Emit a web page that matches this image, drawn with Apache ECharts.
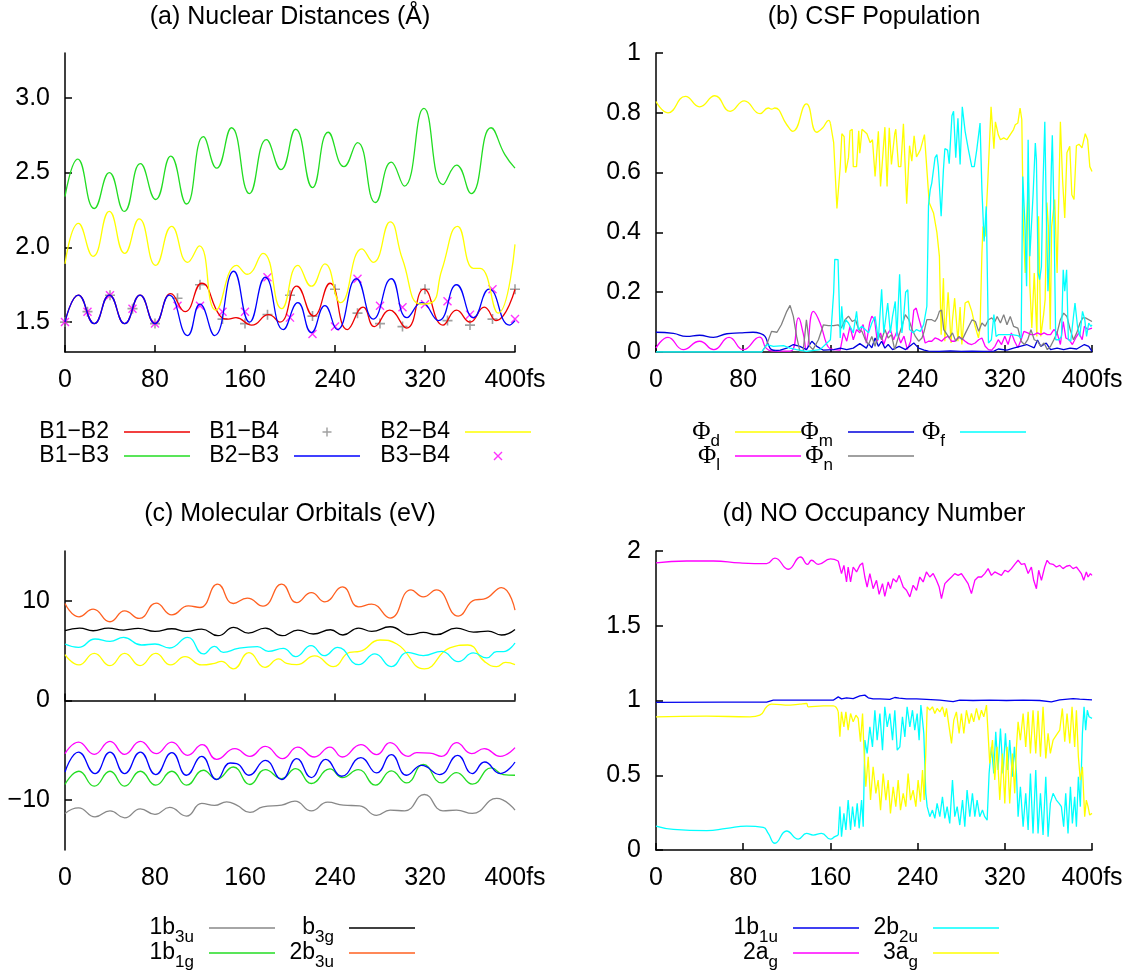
<!DOCTYPE html>
<html>
<head>
<meta charset="utf-8">
<script src="https://cdn.jsdelivr.net/npm/echarts@6/dist/echarts.min.js"></script>
<style>
html, body { margin: 0; padding: 0; background: #fff; }
#chart { width: 1130px; height: 974px; }
</style>
</head>
<body>
<div id="chart"></div>
<script>
// ---- (a) nuclear distances, [fs, Å] ----
const b1b2 = [[0,1.50],[11.9,1.68],[26,1.49],[39.4,1.68],[53,1.49],[66.7,1.68],[80,1.49],[94,1.69],[106.7,1.57],[121.5,1.76],[138,1.54],[145,1.52],[152,1.53],[166,1.48],[181,1.55],[191,1.50],[206,1.74],[221,1.54],[235.6,1.76],[251,1.45],[265,1.60],[275,1.47],[288.6,1.58],[303.7,1.46],[319,1.72],[336,1.48],[348,1.58],[360,1.50],[372.7,1.60],[383,1.51],[400,1.72]];
const b1b3 = [[0,2.34],[11.3,2.59],[26,2.26],[39.4,2.50],[52.7,2.24],[67,2.56],[80.6,2.32],[94,2.61],[108,2.29],[123,2.74],[134.8,2.53],[148,2.80],[164,2.36],[179,2.72],[192,2.52],[205,2.79],[220,2.40],[234,2.77],[248,2.54],[260,2.70],[276,2.30],[290,2.57],[301.6,2.41],[319,2.93],[336,2.42],[348,2.55],[361,2.36],[378.7,2.80],[391,2.62],[400,2.53]];
const b2b3 = [[0,1.50],[11.9,1.68],[26,1.49],[39.4,1.68],[53,1.49],[66.7,1.68],[80,1.49],[92.7,1.68],[109,1.41],[120,1.62],[133,1.41],[150,1.84],[164,1.50],[178,1.80],[194,1.45],[207,1.63],[219,1.43],[231,1.61],[242,1.45],[259,1.79],[274,1.52],[290,1.79],[304,1.53],[317,1.63],[332,1.51],[348,1.75],[363,1.53],[377,1.72],[395,1.48],[400,1.51]];
const b2b4 = [[0,1.89],[11.9,2.16],[25,1.94],[39.4,2.24],[53,1.96],[66,2.19],[80.6,1.88],[94.8,2.14],[109,1.90],[119.4,2.01],[134,1.58],[152.6,1.88],[162,1.82],[176,1.96],[192.6,1.59],[207,1.88],[219,1.74],[231,1.89],[245,1.63],[264,1.99],[274,1.90],[289,2.17],[300,1.92],[316,1.62],[326,1.63],[335,1.85],[349,2.14],[363,1.86],[369,1.86],[385,1.56],[400,2.02]];
const markTimes = [0,20,40,60,80,100,120,140,160,180,200,220,240,260,280,300,320,340,360,380,400];
const b1b4 = [1.50,1.57,1.68,1.59,1.49,1.66,1.75,1.52,1.49,1.55,1.68,1.54,1.72,1.56,1.49,1.47,1.72,1.51,1.48,1.52,1.72];
const b3b4 = [1.50,1.57,1.68,1.59,1.49,1.61,1.61,1.57,1.57,1.80,1.53,1.42,1.47,1.79,1.61,1.60,1.62,1.64,1.55,1.72,1.52];

// ---- (b) CSF population ----
const phiD_early = [[0,0.838],[11,0.80],[27,0.855],[40,0.82],[54,0.857],[68,0.805],[81,0.84],[95.5,0.797],[103,0.816],[106,0.812],[109,0.816],[120,0.76],[125.5,0.738],[138,0.83],[147.5,0.735],[153,0.75],[158.5,0.775],[160,0.765]];
const phiD_late = [[160,0.765],[163,0.70],[166,0.48],[169,0.62],[170.5,0.73],[172.6,0.72],[174,0.60],[176.6,0.65],[178,0.74],[180,0.745],[181,0.62],[184,0.62],[186,0.74],[187,0.665],[189,0.745],[193.5,0.73],[196.5,0.70],[198.6,0.71],[201,0.587],[204,0.738],[206,0.554],[210,0.752],[212,0.554],[214,0.75],[216,0.627],[219,0.73],[220,0.745],[222.5,0.62],[224.6,0.62],[227,0.763],[230,0.496],[232.6,0.69],[234.7,0.638],[236.8,0.723],[239,0.652],[242.5,0.676],[246.3,0.727],[250.6,0.50],[254.6,0.465],[257.7,0.40],[260,0.32],[261.6,0.058],[263.7,0.247],[265,0.036],[268,0.20],[270.7,0.03],[272,0.108],[274,0.18],[277,0.036],[279,0.15],[280.6,0.025],[283.6,0.164],[286.6,0.170],[289.7,0.136],[292.8,0.086],[295.8,0.047],[297.3,0.08],[299,0.33],[300,0.42],[302,0.386],[304.6,0.587],[307.4,0.82],[310,0.68],[311.4,0.77],[314,0.727],[316,0.71],[319,0.716],[322,0.71],[325,0.727],[328,0.744],[329.6,0.76],[332,0.766],[334,0.816],[335.6,0.777],[337,0.42],[338.7,0.264],[340,0.443],[341.7,0.565],[343,0.22],[344.8,0.08],[347,0.264],[349.4,0.052],[351,0.454],[353,0.052],[355.6,0.125],[357,0.175],[358.6,0.50],[360,0.42],[361.7,0.075],[363,0.42],[365.8,0.51],[368,0.264],[371,0.77],[373,0.577],[375,0.448],[377,0.666],[379.6,0.688],[381.5,0.526],[383.5,0.51],[385.7,0.69],[388,0.695],[390.8,0.683],[393.8,0.73],[396,0.71],[398,0.62],[400,0.604]];
const phiL_early = [[0,0.013],[11,0.049],[25,0.008],[40,0.036],[53,0.008],[67,0.049],[80,0.008],[95,0.05],[101,0.013],[106,0.004],[115,0.003],[124,0.004],[130.7,0.114],[135,0.063],[138,0.008],[144.4,0.136],[150.5,0.097],[156.7,0.025],[160,0.01]];
const phiL_late = [[160,0.01],[163,0.008],[169,0.006],[172,0.064],[175,0.036],[178,0.086],[181,0.041],[184,0.075],[187,0.064],[190,0.092],[193,0.03],[196,0.097],[198,0.12],[200.5,0.108],[203,0.036],[206,0.064],[209,0.025],[212,0.058],[215,0.075],[218,0.041],[221,0.069],[224.5,0.03],[227.5,0.053],[230.6,0.008],[233.6,0.036],[236.5,0.14],[238.7,0.147],[241,0.114],[244,0.075],[247,0.03],[250,0.036],[253,0.036],[256,0.047],[259,0.043],[262,0.036],[265,0.047],[268,0.053],[271,0.036],[274,0.036],[277,0.047],[280,0.047],[283.6,0.036],[286.6,0.028],[289.7,0.025],[292.8,0.03],[296,0.041],[299,0.047],[302,0.019],[305,0.008],[308,0.006],[311,0.019],[314,0.041],[317,0.025],[320,0.053],[323,0.025],[326,0.064],[329,0.036],[332,0.014],[335,0.041],[337.5,0.069],[341,0.064],[344,0.058],[347,0.058],[350,0.064],[353,0.058],[356,0.064],[359,0.058],[362,0.058],[365,0.075],[368,0.064],[371,0.025],[373.6,0.102],[376,0.047],[379,0.041],[382,0.025],[385,0.047],[388,0.064],[391,0.041],[393,0.086],[396,0.075],[400,0.08]];
const phiM_early = [[0,0.066],[16,0.062],[28,0.052],[40,0.056],[52.6,0.049],[65,0.061],[77,0.064],[89,0.066],[95.5,0.062],[100,0.052],[103,0.025],[106,0.008],[110,0.005]];
const phiM_late = [[110,0.005],[114,0.006],[120,0.013],[126,0.025],[132,0.019],[138,0.008],[143,0.036],[147.5,0.019],[153.6,0.006],[163,0.008],[169,0.013],[175,0.008],[181,0.013],[187,0.028],[193,0.013],[195,0.028],[198,0.014],[201,0.047],[204,0.019],[207,0.036],[210,0.013],[213,0.025],[217,0.008],[223,0.019],[229,0.008],[236.5,0.03],[241,0.013],[246,0.006],[250,0.003],[260,0.002],[270,0.004],[280,0.002],[290,0.003],[300,0.002],[310,0.003],[314,0.01],[322,0.006],[328,0.013],[334,0.019],[340,0.025],[347,0.014],[350,0.04],[353,0.019],[358,0.03],[362,0.008],[368,0.013],[374,0.008],[380,0.013],[386,0.01],[393,0.025],[397,0.019],[400,0.002]];
const phiN = [[0,0],[97,0],[101.6,0.025],[106,0.069],[111,0.066],[115,0.091],[120,0.136],[123,0.156],[126,0.119],[129,0.052],[132,0.002],[135,0.002],[138,0.108],[141,0.019],[144,0.008],[149,0.041],[153.6,0.091],[158,0.088],[163,0.088],[167,0.091],[170,0.08],[173.5,0.108],[176.6,0.12],[180,0.102],[183,0.108],[186,0.075],[189,0.069],[192,0.041],[195,0.025],[198,0.052],[201,0.019],[204,0.064],[207,0.041],[210,0.075],[213,0.047],[216,0.058],[219,0.008],[222.5,0.052],[225.6,0.086],[228.7,0.125],[232,0.108],[235,0.075],[238,0.052],[241,0.036],[244,0.047],[246,0.069],[248.5,0.108],[250,0.11],[253,0.108],[256,0.102],[258,0.114],[260,0.136],[262,0.14],[264,0.075],[266,0.064],[269,0.047],[272,0.064],[275,0.036],[278,0.052],[281,0.041],[284,0.064],[287,0.086],[290,0.108],[293,0.102],[296,0.069],[299,0.097],[302,0.086],[305,0.108],[308,0.114],[311,0.102],[313,0.119],[316,0.097],[319,0.125],[322,0.091],[325,0.119],[328,0.086],[332,0.08],[335,0.036],[338,0.025],[341,0.041],[344,0.075],[347,0.041],[350,0.036],[353,0.019],[356,0.03],[359,0.008],[362,0.019],[365,0.041],[368,0.064],[371,0.108],[374,0.13],[377,0.119],[380,0.075],[383,0.041],[386,0.064],[389,0.097],[391.5,0.114],[394,0.114],[400,0.102]];
const phiF = [[0,0],[97,0],[101.6,0.025],[107.7,0.019],[117,0.021],[123,0.013],[129,0.008],[138,0.002],[150.5,0.008],[160,0.041],[163,0.2],[164,0.31],[167,0.309],[169,0.047],[170.4,0.153],[172,0.075],[174,0.108],[176.6,0.097],[178,0.086],[181,0.064],[184,0.136],[185.7,0.075],[188.8,0.086],[192,0.075],[195,0.064],[198,0.097],[201,0.119],[204,0.041],[207,0.21],[209,0.064],[212.6,0.164],[215,0.064],[217,0.119],[219.5,0.169],[221,0.052],[223.5,0.26],[225.6,0.064],[227,0.108],[229,0.2],[231,0.208],[232.6,0.075],[236,0.064],[239,0.075],[242.5,0.069],[245.5,0.091],[248.5,0.153],[250,0.49],[251.6,0.543],[253,0.565],[256,0.65],[257.7,0.66],[259,0.62],[261.6,0.454],[263.7,0.61],[265,0.68],[267.5,0.675],[269,0.63],[271.5,0.79],[273,0.805],[275,0.65],[277,0.782],[279,0.627],[281,0.82],[283.6,0.738],[286.6,0.677],[289.7,0.62],[292,0.62],[294.3,0.677],[297.3,0.766],[299,0.543],[301,0.37],[303,0.487],[305,0.03],[307.7,0.041],[310,0.125],[312,0.052],[314,0.058],[316,0.058],[320.6,0.058],[326.7,0.058],[332,0.055],[335,0.047],[336.5,0.587],[338.4,0.432],[340,0.22],[341.4,0.71],[343,0.32],[344.4,0.42],[346,0.53],[348,0.699],[349,0.643],[350.6,0.264],[352,0.242],[353.6,0.286],[355,0.554],[356.7,0.77],[358,0.487],[359.6,0.203],[361,0.331],[362.7,0.62],[363.6,0.725],[365,0.487],[366.7,0.041],[369.7,0.041],[372,0.052],[373.6,0.275],[375,0.203],[376.7,0.275],[378.3,0.041],[380.5,0.036],[382,0.086],[384.4,0.164],[386.7,0.086],[388.8,0.052],[391.3,0.136],[393.4,0.108],[395,0.052],[397,0.097],[399,0.086],[400,0.091]];

// ---- (c) molecular orbitals, eV ----
const mo1b3u = [[0,-11.33],[12,-10.77],[26.7,-11.67],[40,-11.07],[53,-11.77],[67,-10.87],[80,-11.43],[93,-10.73],[108,-11.6],[121.5,-10.33],[133,-10.53],[143.7,-10.17],[152.6,-10.5],[164.4,-11.23],[176,-10.67],[192.6,-10.5],[204.4,-10.1],[219,-11.07],[233.5,-10.2],[247.4,-10.5],[262,-10.57],[277,-11.53],[289,-11.0],[302,-11.07],[319.4,-9.43],[336,-11.07],[348,-11.0],[362,-11.33],[383.7,-9.83],[400,-11.0]];
const mo1b1g = [[0,-8.43],[12.4,-7.1],[26,-8.6],[40,-7.1],[53,-8.6],[67,-7.1],[80.6,-8.5],[95,-7.1],[108,-8.5],[123,-7.0],[134.8,-7.9],[149.6,-6.67],[164.4,-8.43],[178,-6.93],[192.6,-7.83],[205,-6.83],[219,-8.33],[235.5,-6.87],[246.5,-7.73],[260.7,-6.93],[276,-8.5],[290,-7.07],[303.7,-8.27],[318.5,-6.4],[334.8,-8.27],[348,-7.23],[362,-8.4],[379,-6.77],[389.6,-7.43],[400,-7.5]];
const moB3g = [[0,7.0],[13,7.27],[25,7.0],[38.5,7.27],[52,7.07],[65,7.23],[80,6.93],[95,7.2],[108,6.93],[121.5,7.17],[136,6.5],[150,7.33],[163,6.77],[178,7.27],[193,6.5],[207,7.07],[220.7,6.67],[236,7.1],[247,6.57],[261,7.27],[272.6,6.93],[289,7.4],[306.7,6.6],[318.5,6.83],[330,6.6],[348,7.27],[363,6.87],[376,6.97],[388,6.57],[400,7.13]];
const mo2b3u = [[0,9.73],[12.4,8.4],[25,9.17],[40,7.9],[53,9.0],[66,8.23],[81,9.77],[95,8.6],[109.6,9.5],[120,9.33],[135.7,11.67],[149.6,9.73],[162,10.27],[176,9.47],[192.6,11.67],[206,9.83],[219,10.83],[231,9.9],[246.5,11.4],[261,9.4],[272.6,9.67],[289,8.27],[307.6,11.1],[318.5,10.4],[330,11.1],[349.6,8.47],[364.4,10.1],[372,10.17],[388,11.33],[400,9.07]];
const moMagenta = [[0,-5.33],[12,-4.17],[26,-5.4],[40,-4.1],[53,-5.4],[67,-4.1],[81,-5.33],[95,-4.17],[109,-5.5],[122,-4.43],[134.8,-5.9],[151,-4.83],[164.4,-5.6],[178,-4.6],[193.5,-5.83],[206.8,-4.67],[221.6,-5.67],[235.5,-4.67],[246.5,-5.67],[263,-4.43],[277,-5.43],[289,-4.23],[305,-5.6],[312.6,-5.23],[324.4,-5.27],[334.8,-5.6],[348,-4.23],[361.5,-5.33],[372.7,-4.83],[386.7,-5.6],[400,-4.73]];
const moBlue = [[0,-7.17],[12,-5.17],[26.7,-7.33],[40,-5.17],[53,-7.33],[67,-5.17],[80.6,-7.43],[95,-5.23],[108,-7.5],[121.5,-5.6],[134.8,-7.93],[146.7,-6.27],[152.6,-6.33],[163.5,-7.5],[178,-6.0],[192.6,-7.93],[206,-5.83],[219,-7.73],[231.7,-5.9],[246,-7.6],[263,-5.73],[277,-7.27],[290,-5.43],[303.7,-7.5],[317,-6.5],[333,-7.43],[349,-5.5],[362,-7.33],[373,-6.17],[386.7,-7.33],[400,-6.17]];
const moCyan = [[0,5.67],[12,5.33],[26.7,6.17],[40,5.93],[52,6.33],[68,5.57],[80,5.67],[93,5.27],[109,6.33],[123,4.67],[133,5.43],[140.7,4.83],[154,5.23],[171,5.4],[180.7,4.93],[194,5.23],[205,4.4],[218.7,5.5],[230.5,4.5],[242.4,5.33],[261,3.6],[275.5,4.67],[290,3.4],[304.6,4.83],[318.5,4.5],[334.8,4.93],[349.6,3.9],[363,4.77],[374.8,4.27],[383.7,4.9],[389.6,4.9],[400,5.77]];
const moYellow = [[0,4.6],[12.4,3.57],[26,4.73],[40,3.5],[53,4.73],[66.7,3.5],[80.6,4.73],[94,3.57],[106.7,4.4],[121.5,3.57],[133,3.73],[139,3.93],[149.6,3.17],[163.5,4.8],[177.8,3.33],[190,4.17],[197,3.73],[206,3.6],[222,4.47],[238.5,3.4],[253,4.83],[262,4.93],[280,6.07],[295,5.67],[319.4,3.17],[342,5.27],[358,5.57],[373,3.9],[383.7,3.4],[391.6,3.83],[400,3.6]];

// ---- (d) NO occupancy ----
const no1b1u = [[0,0.987],[61.7,0.989],[101.5,0.989],[107.6,1.002],[162.6,1.002],[167.2,1.024],[170.2,1.011],[174.8,1.018],[180.9,1.013],[187,1.031],[188.6,1.020],[191.6,1.036],[194.7,1.018],[199.2,1.011],[205.4,1.011],[214.5,1.007],[219.1,1.020],[220.6,1.033],[223.1,1.016],[229.8,1.011],[239,1.011],[248.1,1.007],[260.4,1.002],[272.6,0.993],[278.7,1.002],[290.9,1.000],[306.2,1.002],[321.5,1.000],[336.8,1.002],[352,1.000],[362.7,0.991],[370.4,1.004],[382.6,1.013],[388.7,1.009],[400,1.004]];
const no2ag_early = [[0,1.920],[28.1,1.933],[52.6,1.933],[77,1.920],[101.5,1.915],[109.1,1.953],[121.3,1.878],[132.6,1.960],[139,1.911],[142.7,1.938],[148.8,1.911],[160.1,1.947],[167.2,1.933]];
const no2ag_late = [[167.2,1.933],[170.2,1.849],[172.4,1.904],[174.8,1.793],[176.3,1.893],[178.5,1.793],[180.9,1.893],[184,1.860],[187,1.904],[189.5,1.920],[191.6,1.826],[193.7,1.759],[196.2,1.849],[199.2,1.748],[202.3,1.804],[204.7,1.710],[207.8,1.782],[209.9,1.697],[213,1.793],[215.1,1.748],[217.6,1.815],[220.6,1.793],[223.1,1.837],[226.8,1.759],[229.8,1.737],[232.9,1.693],[235.9,1.771],[239,1.737],[242,1.826],[245.1,1.793],[248.1,1.860],[251.2,1.826],[254.3,1.849],[257.3,1.804],[259.8,1.759],[261.9,1.682],[265,1.782],[268,1.804],[271.1,1.826],[274.1,1.849],[277.2,1.837],[280.2,1.849],[283.3,1.815],[286.3,1.782],[289.4,1.715],[292.5,1.804],[295.5,1.826],[298.6,1.826],[301.6,1.849],[304.7,1.882],[307.7,1.837],[310.8,1.860],[313.8,1.849],[316.9,1.837],[320,1.871],[323,1.860],[326.1,1.882],[329.1,1.911],[332.2,1.938],[335.2,1.911],[338.3,1.915],[341.4,1.849],[344.4,1.893],[346.5,1.804],[349,1.748],[351.1,1.871],[353.6,1.804],[356.6,1.893],[358.8,1.938],[361.2,1.915],[364.3,1.911],[367.3,1.893],[370.4,1.904],[373.4,1.882],[376.5,1.898],[379.6,1.904],[382.6,1.882],[385.7,1.893],[388.1,1.871],[390.2,1.849],[392.4,1.804],[394.8,1.860],[396.4,1.826],[398.5,1.849],[400,1.837]];
const no2b2u_early = [[0,0.160],[15.9,0.138],[46.5,0.129],[64.8,0.145],[83.1,0.160],[98.4,0.151],[103,0.111],[109.1,0.045],[119.8,0.127],[130.5,0.073],[138.1,0.111],[144.2,0.100],[151.9,0.111],[160.1,0.073],[164.1,0.089],[167.2,0.100]];
const no2b2u_late = [[167.2,0.100],[168.7,0.290],[170.2,0.089],[172.4,0.245],[174.2,0.134],[176.3,0.334],[178.5,0.134],[180.3,0.290],[182.4,0.156],[184.6,0.312],[186.4,0.145],[188.6,0.334],[190.1,0.156],[191.6,0.735],[193.7,0.646],[196.2,0.824],[198.6,0.690],[200.8,0.935],[202.9,0.735],[205.4,0.913],[207.8,0.668],[209.9,0.958],[212.1,0.824],[214.5,0.913],[217,0.735],[219.1,0.935],[221.3,0.668],[223.7,0.690],[226.1,0.891],[228.3,0.757],[230.4,0.958],[232.9,0.824],[235.3,0.935],[237.4,0.802],[239.6,0.913],[241.4,0.735],[243,0.969],[244.5,0.869],[245.7,0.780],[247.5,0.379],[248.8,0.290],[251.2,0.223],[253.6,0.267],[255.8,0.212],[257.9,0.312],[260.4,0.223],[262.8,0.356],[265,0.212],[267.1,0.290],[269.5,0.178],[272,0.468],[274.1,0.223],[276.3,0.290],[278.7,0.167],[281.2,0.334],[283.3,0.156],[285.4,0.401],[287.9,0.223],[290.3,0.379],[292.5,0.223],[294.6,0.334],[297,0.223],[299.5,0.267],[301.6,0.223],[303.8,0.200],[305.6,0.512],[307.7,0.690],[309.9,0.512],[311.7,0.791],[313.8,0.535],[316,0.813],[318.4,0.512],[320.6,0.780],[322.7,0.535],[324.5,0.735],[327,0.490],[328.8,0.690],[330.7,0.512],[332.2,0.223],[334.3,0.423],[336.8,0.156],[339.2,0.379],[341.4,0.134],[343.5,0.512],[345.9,0.111],[348.4,0.535],[350.5,0.111],[352.7,0.379],[355.1,0.100],[357.6,0.490],[359.7,0.089],[361.8,0.312],[364.3,0.379],[367.3,0.334],[369.8,0.312],[371.9,0.290],[374,0.156],[375.9,0.379],[378,0.111],[380.2,0.423],[382,0.178],[384.1,0.356],[385.7,0.156],[387.5,0.490],[389.3,0.290],[391.2,0.780],[392.7,0.958],[394.2,0.802],[395.7,0.935],[397.3,0.891],[398.5,0.891],[400,0.880]];
const no3ag_early = [[0,0.891],[46.5,0.895],[86.2,0.891],[95.3,0.902],[101.5,0.958],[106,0.976],[122.9,0.969],[132,0.976],[138.1,0.980],[139.7,0.958],[153.4,0.964],[162.6,0.964],[167.2,0.924]];
const no3ag_late = [[167.2,0.924],[168.7,0.757],[170.2,0.924],[172.4,0.824],[174.2,0.924],[176.3,0.802],[178.5,0.913],[180.9,0.857],[183.4,0.902],[185.5,0.880],[187.6,0.724],[189.5,0.913],[190.7,0.690],[192.5,0.423],[194.7,0.624],[196.8,0.334],[199.2,0.557],[201.7,0.379],[203.8,0.468],[206,0.267],[208.4,0.512],[210.9,0.334],[213,0.468],[215.1,0.245],[217.6,0.423],[220,0.290],[222.2,0.468],[224.3,0.267],[226.8,0.379],[229.2,0.290],[231.3,0.512],[233.5,0.334],[235.9,0.401],[238.4,0.290],[240.5,0.468],[242.6,0.323],[244.5,0.535],[246,0.334],[247.5,0.646],[248.8,0.958],[251.2,0.935],[253.6,0.958],[255.8,0.913],[257.9,0.947],[260.4,0.924],[262.8,0.958],[265,0.891],[266.5,0.947],[268.9,0.824],[271.1,0.713],[273.2,0.869],[275.6,0.924],[278.1,0.780],[280.2,0.913],[282.4,0.780],[284.8,0.935],[287.3,0.846],[289.4,0.913],[291.5,0.857],[294,0.947],[296.4,0.869],[298.6,0.935],[300.7,0.891],[303.2,0.969],[304.7,0.958],[306.2,0.579],[308.7,0.735],[310.8,0.468],[312.9,0.690],[315.4,0.334],[317.8,0.646],[320,0.312],[322.1,0.690],[324.5,0.312],[327,0.646],[329.1,0.379],[330.7,0.690],[332.2,0.857],[334.3,0.735],[336.8,0.913],[339.2,0.690],[341.4,0.924],[343.5,0.646],[345.9,0.935],[348.4,0.646],[350.5,0.931],[352.7,0.624],[355.1,0.958],[357.6,0.612],[359.7,0.780],[361.8,0.646],[364.3,0.735],[367.3,0.768],[370.4,0.802],[372.8,0.947],[375,0.724],[377.1,0.913],[379.6,0.713],[381.7,0.958],[384.1,0.690],[385.7,0.935],[387.5,0.624],[389.3,0.468],[391.2,0.557],[393.3,0.223],[394.8,0.334],[396.4,0.290],[397.9,0.234],[400,0.245]];

const FONT = 'Liberation Sans';
const PLUS = 'path://M4.2,0H5.8V4.2H10V5.8H5.8V10H4.2V5.8H0V4.2H4.2Z';
const CROSS = 'path://M0,1.1L1.1,0L10,8.9L8.9,10Z M8.9,0L10,1.1L1.1,10L0,8.9Z';
const LINE_ICON = 'path://M0,0H60V1.4H0Z';

// one legend per entry so the text is right-aligned against its sample, gnuplot style.
// slotEnd is the right end of the 66px sample slot; a point symbol sits in its middle.
function legendItem(name, label, slotEnd, rowY, icon) {
	let rich = label.indexOf('{s|') >= 0;
	let boxRight = icon ? slotEnd - 33 + 4.5 : slotEnd;
	return {
		data: [{ name: name, icon: icon || LINE_ICON }],
		right: 1130 - boxRight,
		top: rowY - (rich ? 18 : 13),
		padding: 0,
		align: 'right',
		itemWidth: 66,
		itemHeight: icon ? 9 : 8,
		selectedMode: false,
		formatter: function() { return label; },
		textStyle: {
			fontFamily: FONT, fontSize: 23, color: '#000', lineHeight: 26,
			padding: [0, 10, 0, 0],
			rich: {
				n: { fontFamily: FONT, fontSize: 23, lineHeight: 26, color: '#000' },
				p: { fontFamily: 'Liberation Serif', fontSize: 25, lineHeight: 26, color: '#000' },
				s: { fontFamily: FONT, fontSize: 17, lineHeight: 17, padding: [19, 0, 0, 0], color: '#000' }
			}
		}
	};
}

function xAxisFor(grid) {
	return {
		type: 'value', gridIndex: grid, min: 0, max: 400, interval: 80,
		axisLine: { lineStyle: { color: '#000', width: 1.5 } },
		axisTick: { inside: true, length: 7, lineStyle: { color: '#000', width: 1.5 } },
		splitLine: { show: false },
		axisLabel: {
			fontFamily: FONT, fontSize: 25, color: '#000', margin: 16,
			formatter: function(v) { return v === 400 ? '400fs' : String(v); }
		}
	};
}

function yAxisFor(grid, extra) {
	let axis = {
		type: 'value', gridIndex: grid,
		axisLine: { show: true, lineStyle: { color: '#000', width: 1.5 } },
		axisTick: { show: true, inside: true, length: 7, lineStyle: { color: '#000', width: 1.5 } },
		splitLine: { show: false },
		axisLabel: { fontFamily: FONT, fontSize: 25, color: '#000', margin: 15 }
	};
	return echarts.util.merge(axis, extra, true);
}

function line(name, data, color, grid, smooth) {
	return {
		name: name, type: 'line', data: data,
		xAxisIndex: grid, yAxisIndex: grid,
		symbol: 'none', showSymbol: false,
		smooth: smooth ? 0.5 : false,
		lineStyle: { color: color, width: 1.3 },
		itemStyle: { color: color },
		emphasis: { disabled: true }
	};
}

function marks(name, values, symbol, size, color) {
	let pts = [];
	for (let i = 0; i < markTimes.length; i++) {
		pts.push([markTimes[i], values[i]]);
	}
	return {
		name: name, type: 'scatter', data: pts,
		xAxisIndex: 0, yAxisIndex: 0,
		symbol: symbol, symbolSize: size, symbolKeepAspect: true,
		itemStyle: { color: color },
		emphasis: { disabled: true }
	};
}

let option = {
	animation: false,
	backgroundColor: '#fff',
	textStyle: { fontFamily: FONT },
	title: [
		{ text: '(a) Nuclear Distances (Å)', left: 290, top: 3 },
		{ text: '(b) CSF Population', left: 874, top: 3 },
		{ text: '(c) Molecular Orbitals (eV)', left: 290, top: 500 },
		{ text: '(d) NO Occupancy Number', left: 874, top: 500 }
	].map(function(t) {
		t.textAlign = 'center';
		t.padding = 0;
		t.textStyle = { fontFamily: FONT, fontSize: 25, fontWeight: 'normal', color: '#000', lineHeight: 28 };
		return t;
	}),
	grid: [
		{ left: 65, top: 53, width: 450, height: 299 },
		{ left: 656, top: 53, width: 436, height: 299 },
		{ left: 65, top: 551, width: 450, height: 299 },
		{ left: 656, top: 551, width: 436, height: 299 }
	],
	xAxis: [xAxisFor(0), xAxisFor(1), xAxisFor(2), xAxisFor(3)],
	yAxis: [
		yAxisFor(0, {
			min: 1.3, max: 3.3,
			axisTick: { customValues: [1.5, 2, 2.5, 3] },
			axisLabel: { customValues: [1.5, 2, 2.5, 3], formatter: function(v) { return v.toFixed(1); } }
		}),
		yAxisFor(1, { min: 0, max: 1, interval: 0.2 }),
		yAxisFor(2, {
			min: -15, max: 15,
			axisTick: { customValues: [-10, 0, 10] },
			axisLabel: { customValues: [-10, 0, 10], formatter: function(v) { return v < 0 ? '\u2212' + Math.abs(v) : String(v); } }
		}),
		yAxisFor(3, { min: 0, max: 2, interval: 0.5 })
	],
	legend: [
		legendItem('B1−B2', 'B1\u2212B2', 190, 432),
		legendItem('B1−B3', 'B1\u2212B3', 190, 456),
		legendItem('B1−B4', 'B1\u2212B4', 360, 432, PLUS),
		legendItem('B2−B3', 'B2\u2212B3', 360, 456),
		legendItem('B2−B4', 'B2\u2212B4', 531, 432),
		legendItem('B3−B4', 'B3\u2212B4', 531, 456, CROSS),

		legendItem('Φd', '{p|Φ}{s|d}', 801, 432),
		legendItem('Φl', '{p|Φ}{s|l}', 801, 456),
		legendItem('Φm', '{p|Φ}{s|m}', 914, 432),
		legendItem('Φn', '{p|Φ}{s|n}', 914, 456),
		legendItem('Φf', '{p|Φ}{s|f}', 1026, 432),

		legendItem('1b3u', '{n|1b}{s|3u}', 275, 928),
		legendItem('1b1g', '{n|1b}{s|1g}', 275, 953),
		legendItem('b3g', '{n|b}{s|3g}', 415, 928),
		legendItem('2b3u', '{n|2b}{s|3u}', 415, 953),

		legendItem('1b1u', '{n|1b}{s|1u}', 859, 928),
		legendItem('2ag', '{n|2a}{s|g}', 859, 953),
		legendItem('2b2u', '{n|2b}{s|2u}', 999, 928),
		legendItem('3ag', '{n|3a}{s|g}', 999, 953)
	],
	series: [
		// (a)
		line('B1−B2', b1b2, '#ee0000', 0, true),
		line('B1−B3', b1b3, '#22dd22', 0, true),
		marks('B1−B4', b1b4, PLUS, 10, '#888888'),
		line('B2−B3', b2b3, '#0000ff', 0, true),
		line('B2−B4', b2b4, '#ffff00', 0, true),
		marks('B3−B4', b3b4, CROSS, 9, '#ff00ff'),
		// (b)
		line('Φd', phiD_early, '#ffff00', 1, true),
		line('Φd', phiD_late, '#ffff00', 1, false),
		line('Φl', phiL_early, '#ff00ff', 1, true),
		line('Φl', phiL_late, '#ff00ff', 1, false),
		line('Φm', phiM_early, '#0000dd', 1, true),
		line('Φm', phiM_late, '#0000dd', 1, false),
		line('Φn', phiN, '#808080', 1, false),
		line('Φf', phiF, '#00ffff', 1, false),
		// (c)
		line('1b3u', mo1b3u, '#888888', 2, true),
		line('1b1g', mo1b1g, '#22dd22', 2, true),
		line('mo-blue', moBlue, '#0000ff', 2, true),
		line('mo-magenta', moMagenta, '#ff00ff', 2, true),
		line('mo-yellow', moYellow, '#ffff00', 2, true),
		line('mo-cyan', moCyan, '#00ffff', 2, true),
		line('b3g', moB3g, '#000000', 2, true),
		line('2b3u', mo2b3u, '#ff6020', 2, true),
		// (d)
		line('1b1u', no1b1u, '#0000ee', 3, false),
		line('2ag', no2ag_early, '#ff00ff', 3, true),
		line('2ag', no2ag_late, '#ff00ff', 3, false),
		line('2b2u', no2b2u_early, '#00ffff', 3, true),
		line('2b2u', no2b2u_late, '#00ffff', 3, false),
		line('3ag', no3ag_early, '#ffff00', 3, true),
		line('3ag', no3ag_late, '#ffff00', 3, false)
	]
};

let myChart = echarts.init(document.getElementById('chart'), null, { renderer: 'canvas' });
myChart.setOption(option);
</script>
</body>
</html>
